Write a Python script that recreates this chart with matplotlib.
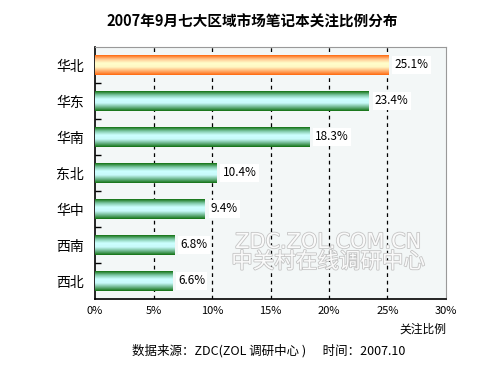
import numpy as np
import matplotlib.pyplot as plt
import matplotlib.patheffects as pe
from matplotlib.colors import LinearSegmentedColormap

plt.rcParams['font.family'] = ['Noto Sans CJK SC', 'DejaVu Sans']

# -- DATA ------------------------------------------------------------------------
regions = ['华北', '华东', '华南', '东北', '华中', '西南', '西北']
shares = [25.1, 23.4, 18.3, 10.4, 9.4, 6.8, 6.6]
xticks = [0, 5, 10, 15, 20, 25, 30]
title = '2007年9月七大区域市场笔记本关注比例分布'
xlabel = '关注比例'
footer = '数据来源：ZDC(ZOL 调研中心 )      时间：2007.10'

# -- FIGURE ----------------------------------------------------------------------
fig = plt.figure(figsize=(5, 3.75), dpi=100)
ax = fig.add_axes([95 / 500, 1 - 299 / 375, 351 / 500, 252 / 375])
ax.set_facecolor('#f3f7f7')

y = np.arange(len(regions))
bars = ax.barh(y, shares, height=0.55, color='none', edgecolor='none', zorder=3)

# gradient fills: dark edges, light centre
green = LinearSegmentedColormap.from_list('g', ['#137213', '#7fc9a8', '#ccffff', '#c8fafa', '#6fb890', '#137213'])
orange = LinearSegmentedColormap.from_list('o', ['#ff6a10', '#ffc890', '#ffffcc', '#fff8c4', '#ffb070', '#ff6a10'])
grad = np.linspace(0, 1, 64).reshape(-1, 1)
for i, b in enumerate(bars):
    cmap = orange if i == 0 else green
    x0, y0 = b.get_x(), b.get_y()
    w, h = b.get_width(), b.get_height()
    im = ax.imshow(grad, cmap=cmap, aspect='auto', extent=(x0, x0 + w, y0, y0 + h),
                   origin='lower', zorder=3)
    im.set_clip_path(b)

ax.set_xlim(0, 30)
ax.set_ylim(len(regions) - 0.5, -0.5)
ax.set_xticks(xticks)
ax.set_xticklabels([f'{t}%' for t in xticks], fontsize=8)
ax.set_yticks(y)
ax.set_yticklabels(regions, fontsize=10)
ax.set_yticks(np.arange(len(regions) - 1) + 0.5, minor=True)
ax.tick_params(axis='y', which='major', length=0, pad=8)
ax.tick_params(axis='y', which='minor', direction='in', length=4, width=1)
ax.tick_params(axis='x', length=0, pad=5)

for xv in xticks[1:-1]:
    ax.axvline(xv, color='black', linestyle=(0, (3, 3)), linewidth=0.9, zorder=2)

for s in ['top', 'right']:
    ax.spines[s].set_color('#999999')
for s in ['left', 'bottom']:
    ax.spines[s].set_color('black')
    ax.spines[s].set_linewidth(1.2)

for yi, v in zip(y, shares):
    ax.text(v + 0.5, yi, f'{v}%', va='center', ha='left', fontsize=8.5, zorder=4,
            bbox=dict(facecolor='white', edgecolor='none', pad=1.5))

# watermark (embossed look)
wm_fx = [pe.withStroke(linewidth=1.2, foreground='#c4c4c4')]
fig.text(328 / 500, 1 - 242 / 375, 'ZDC.ZOL.COM.CN', ha='center', va='center', family='DejaVu Sans',
         fontsize=15, color='#fafafa', zorder=5, path_effects=wm_fx)
fig.text(328 / 500, 1 - 262 / 375, '中关村在线调研中心', ha='center', va='center',
         fontsize=15.5, color='#fafafa', zorder=5, path_effects=wm_fx)

fig.text(252 / 500, 1 - 22 / 375, title, ha='center', va='center', fontsize=10.5, fontweight='bold')
fig.text(446 / 500, 1 - 329 / 375, xlabel, ha='right', va='center', fontsize=8.5)
fig.text(269 / 500, 1 - 351 / 375, footer, ha='center', va='center', fontsize=9)

fig.savefig('out.png', dpi=100)
